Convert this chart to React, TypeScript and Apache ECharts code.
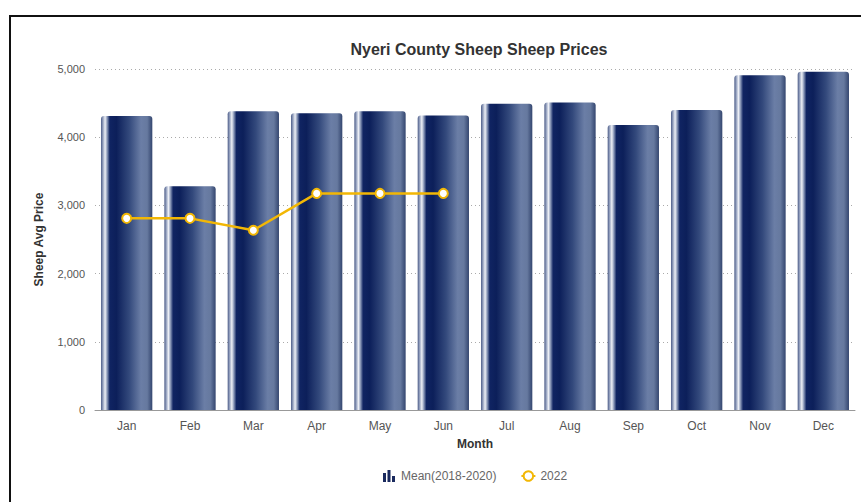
import React, { useEffect, useRef } from "react";
import * as echarts from "echarts";

const months = ["Jan", "Feb", "Mar", "Apr", "May", "Jun", "Jul", "Aug", "Sep", "Oct", "Nov", "Dec"];
const meanValues = [4310, 3280, 4380, 4350, 4380, 4320, 4490, 4510, 4180, 4400, 4910, 4960];
const values2022 = [2810, 2810, 2635, 3176, 3176, 3176, null, null, null, null, null, null];
const yTicks = [0, 1000, 2000, 3000, 4000, 5000];

const FONT = '"Liberation Sans", Arial, Helvetica, sans-serif';

export default function App() {
  const ref = useRef<HTMLDivElement>(null);
  useEffect(() => {
    if (!ref.current) return;
    const chart = echarts.init(ref.current, undefined, { renderer: "svg" });
    const barGradient = new echarts.graphic.LinearGradient(0, 0, 1, 0, [
      { offset: 0, color: "#4a5a86" },
      { offset: 0.04, color: "#9aa6c2" },
      { offset: 0.08, color: "#eef0f6" },
      { offset: 0.12, color: "#8a98b8" },
      { offset: 0.17, color: "#102462" },
      { offset: 0.3, color: "#0c1f5a" },
      { offset: 0.55, color: "#33497c" },
      { offset: 0.78, color: "#6b7ea6" },
      { offset: 0.9, color: "#66799f" },
      { offset: 1, color: "#34466f" },
    ]);
    chart.setOption({
      animation: false,
      backgroundColor: "#fff",
      textStyle: { fontFamily: FONT },
      title: {
        text: "Nyeri County Sheep Sheep Prices",
        left: 474,
        textAlign: "center",
        top: 36,
        textStyle: { fontFamily: FONT, fontSize: 16, fontWeight: "bold", color: "#333" },
      },
      legend: {
        bottom: 15,
        left: 378,
        itemGap: 24,
        itemWidth: 14,
        itemHeight: 12,
        textStyle: { fontFamily: FONT, fontSize: 12, color: "#666" },
        data: [
          {
            name: "Mean(2018-2020)",
            icon: "path://M0,3h3v9h-3z M4.5,0h3v12h-3z M9,6h3v6h-3z",
            itemStyle: { color: "#1a2a5e" },
          },
          { name: "2022" },
        ],
      },
      grid: { left: 95, right: 6, top: 69, bottom: 92, containLabel: false },
      xAxis: {
        type: "category",
        data: months,
        name: "Month",
        nameLocation: "middle",
        nameGap: 28,
        nameTextStyle: { fontFamily: FONT, fontSize: 12, fontWeight: "bold", color: "#333" },
        axisLine: { lineStyle: { color: "#999", width: 1 } },
        axisTick: { show: false },
        axisLabel: { fontFamily: FONT, fontSize: 12, color: "#555", margin: 10 },
      },
      yAxis: {
        type: "value",
        min: yTicks[0],
        max: yTicks[yTicks.length - 1],
        interval: 1000,
        name: "Sheep Avg Price",
        nameLocation: "middle",
        nameGap: 50,
        nameTextStyle: { fontFamily: FONT, fontSize: 12, fontWeight: "bold", color: "#333" },
        axisLine: { show: false },
        axisTick: { show: false },
        axisLabel: {
          fontFamily: FONT,
          fontSize: 11,
          color: "#555",
          margin: 10,
          formatter: (v: number) => v.toLocaleString("en-US"),
        },
        splitLine: { lineStyle: { color: "#aaa", type: [1, 3], width: 1 } },
      },
      series: [
        {
          name: "Mean(2018-2020)",
          type: "bar",
          data: meanValues,
          barCategoryGap: "19%",
          itemStyle: { color: barGradient, borderRadius: [3, 3, 0, 0] },
        },
        {
          name: "2022",
          type: "line",
          data: values2022,
          symbol: "circle",
          symbolSize: 9,
          lineStyle: { color: "#f2b705", width: 2.5 },
          itemStyle: { color: "#ffffff", borderColor: "#f2b705", borderWidth: 2 },
          z: 5,
        },
      ],
    });
    return () => chart.dispose();
  }, []);

  return (
    <div style={{ position: "fixed", left: 0, top: 0, width: 861, height: 502, overflow: "hidden", background: "#fff" }}>
      <div ref={ref} style={{ position: "absolute", left: 0, top: 0, width: 861, height: 502 }} />
      <div
        style={{
          position: "absolute",
          left: 9,
          top: 15,
          width: 900,
          height: 600,
          borderTop: "2px solid #111",
          borderLeft: "2px solid #111",
          pointerEvents: "none",
        }}
      />
    </div>
  );
}
